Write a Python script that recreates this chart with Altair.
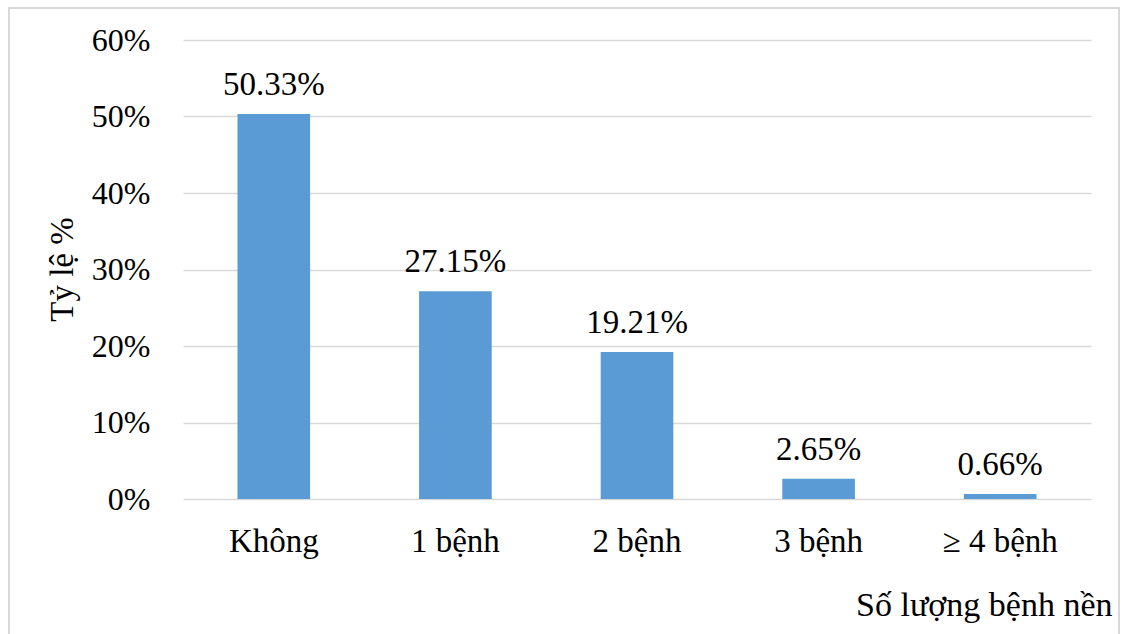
import altair as alt
import pandas as pd

# Share of patients by number of underlying conditions
categories = ["Không", "1 bệnh", "2 bệnh", "3 bệnh", "≥ 4 bệnh"]
percentages = [50.33, 27.15, 19.21, 2.65, 0.66]
y_ticks = [0, 10, 20, 30, 40, 50, 60]

df = pd.DataFrame({"category": categories, "pct": percentages})

FONT = "'Times New Roman', 'Liberation Serif', Times, 'DejaVu Serif', serif"
BAR_COLOR = "#5B9BD5"
GRID_COLOR = "#D9D9D9"

base = alt.Chart(df)

x_enc = alt.X(
    "category:N",
    sort=categories,
    scale=alt.Scale(paddingInner=0.6, paddingOuter=0.3),
    axis=alt.Axis(
        title="Số lượng bệnh nền",
        titleFont=FONT,
        titleFontSize=34,
        titleFontWeight="normal",
        titleColor="black",
        titleAlign="right",
        titleAnchor="end",
        titleBaseline="alphabetic",
        titleX=929,
        titleY=116,
        labelFont=FONT,
        labelFontSize=33,
        labelColor="black",
        labelAngle=0,
        labelBaseline="alphabetic",
        labelPadding=52,
        ticks=False,
        domain=False,
        grid=False,
    ),
)

y_enc = alt.Y(
    "pct:Q",
    scale=alt.Scale(domain=[0, 60], nice=False),
    axis=alt.Axis(
        values=y_ticks,
        labelExpr="datum.value + '%'",
        title="Tỷ lệ %",
        titleFont=FONT,
        titleFontSize=33,
        titleFontWeight="normal",
        titleColor="black",
        titleAngle=-90,
        titleAlign="center",
        titleBaseline="alphabetic",
        titleX=-111,
        titleY=229,
        labelFont=FONT,
        labelFontSize=32,
        labelColor="black",
        labelPadding=33,
        ticks=False,
        domain=False,
        grid=True,
        gridColor=GRID_COLOR,
        gridWidth=1.5,
    ),
)

bars = base.mark_bar(color=BAR_COLOR).encode(x=x_enc, y=y_enc)

labels = (
    base.transform_calculate(label="format(datum.pct, '.2f') + '%'")
    .mark_text(font=FONT, fontSize=33, color="black", baseline="alphabetic", dy=-19)
    .encode(x=alt.X("category:N", sort=categories), y="pct:Q", text="label:N")
)

# Light frame around the whole figure
frame = base.mark_rect(fill=None, stroke=GRID_COLOR, strokeWidth=2).encode(
    x=alt.value(-174),
    x2=alt.value(936),
    y=alt.value(-32),
    y2=alt.value(620),
)

chart = (
    alt.layer(frame, bars, labels)
    .properties(
        width=908,
        height=459,
        autosize=alt.AutoSizeParams(type="none"),
        padding={"left": 183, "top": 40, "right": 33, "bottom": 135},
        background="white",
    )
    .configure_view(stroke=None)
)

chart.save("out.html", embed_options={"renderer": "svg", "actions": False})
